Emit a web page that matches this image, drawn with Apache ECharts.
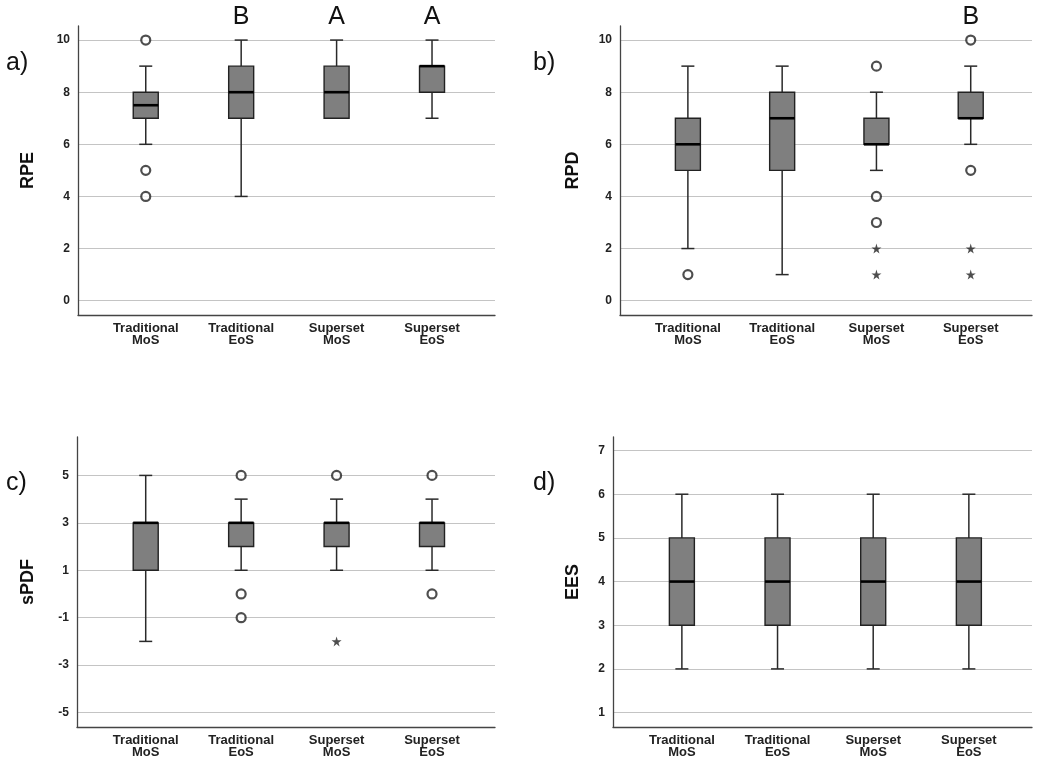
<!DOCTYPE html>
<html>
<head>
<meta charset="utf-8">
<script src="https://cdn.jsdelivr.net/npm/echarts@6/dist/echarts.min.js"></script>
<style>
  html, body { margin: 0; padding: 0; background: #fff; }
  #chart { width: 1049px; height: 762px; }
</style>
</head>
<body>
<div id="chart"></div>
<script>
// groups on the x axis
const categories = ['Traditional\nMoS', 'Traditional\nEoS', 'Superset\nMoS', 'Superset\nEoS'];

// boxes: [whisker low, Q1, median, Q3, whisker high]
const rpeBoxes = [[6, 7, 7.5, 8, 9], [4, 7, 8, 9, 10], [7, 7, 8, 9, 10], [7, 8, 9, 9, 10]];
const rpeCircles = [[0, 10], [0, 5], [0, 4]];
const rpeStars = [];
const rpeLetters = ['', 'B', 'A', 'A'];
const rpeTicks = [0, 2, 4, 6, 8, 10];

const rpdBoxes = [[2, 5, 6, 7, 9], [1, 5, 7, 8, 9], [5, 6, 6, 7, 8], [6, 7, 7, 8, 9]];
const rpdCircles = [[0, 1], [2, 9], [2, 4], [2, 3], [3, 10], [3, 5]];
const rpdStars = [[2, 2], [2, 1], [3, 2], [3, 1]];
const rpdLetters = ['', '', '', 'B'];
const rpdTicks = [0, 2, 4, 6, 8, 10];

const spdfBoxes = [[-2, 1, 3, 3, 5], [1, 2, 3, 3, 4], [1, 2, 3, 3, 4], [1, 2, 3, 3, 4]];
const spdfCircles = [[1, 5], [1, 0], [1, -1], [2, 5], [3, 5], [3, 0]];
const spdfStars = [[2, -2]];
const spdfLetters = ['', '', '', ''];
const spdfTicks = [-5, -3, -1, 1, 3, 5];

const eesBoxes = [[2, 3, 4, 5, 6], [2, 3, 4, 5, 6], [2, 3, 4, 5, 6], [2, 3, 4, 5, 6]];
const eesCircles = [];
const eesStars = [];
const eesLetters = ['', '', '', ''];
const eesTicks = [1, 2, 3, 4, 5, 6, 7];

const panels = [
  { tag: 'a)', name: 'RPE', nameGap: 41, grid: { left: 78, top: 26, width: 417, height: 289 },
    xMin: -0.71, xMax: 3.66, yMin: -0.55, yMax: 10.54,
    boxes: rpeBoxes, circles: rpeCircles, stars: rpeStars, letters: rpeLetters, ticks: rpeTicks },
  { tag: 'b)', name: 'RPD', nameGap: 38, grid: { left: 620, top: 26, width: 412, height: 289 },
    xMin: -0.72, xMax: 3.65, yMin: -0.55, yMax: 10.54,
    boxes: rpdBoxes, circles: rpdCircles, stars: rpdStars, letters: rpdLetters, ticks: rpdTicks },
  { tag: 'c)', name: 'sPDF', nameGap: 40, grid: { left: 77, top: 437, width: 418, height: 290 },
    xMin: -0.72, xMax: 3.66, yMin: -5.61, yMax: 6.62,
    boxes: spdfBoxes, circles: spdfCircles, stars: spdfStars, letters: spdfLetters, ticks: spdfTicks },
  { tag: 'd)', name: 'EES', nameGap: 31, grid: { left: 613, top: 437, width: 419, height: 290 },
    xMin: -0.72, xMax: 3.66, yMin: 0.67, yMax: 7.31,
    boxes: eesBoxes, circles: eesCircles, stars: eesStars, letters: eesLetters, ticks: eesTicks }
];

const FONT = '"Liberation Sans", Arial, sans-serif';
const STAR = 'path://M50,0 L61,35 L98,35 L68,57 L79,91 L50,70 L21,91 L32,57 L2,35 L39,35 Z';

function boxRenderer(p) {
  return function (params, api) {
    const x = api.value(0);
    const lo = api.coord([x, api.value(1)]);
    const q1 = api.coord([x, api.value(2)]);
    const md = api.coord([x, api.value(3)]);
    const q3 = api.coord([x, api.value(4)]);
    const hi = api.coord([x, api.value(5)]);
    const cx = lo[0];
    const bw = 25, cw = 13;
    const wStyle = { stroke: '#2a2a2a', lineWidth: 1.5 };
    const kids = [
      { type: 'line', shape: { x1: cx, y1: lo[1], x2: cx, y2: q1[1] }, style: wStyle },
      { type: 'line', shape: { x1: cx, y1: q3[1], x2: cx, y2: hi[1] }, style: wStyle },
      { type: 'line', shape: { x1: cx - cw / 2, y1: lo[1], x2: cx + cw / 2, y2: lo[1] }, style: wStyle },
      { type: 'line', shape: { x1: cx - cw / 2, y1: hi[1], x2: cx + cw / 2, y2: hi[1] }, style: wStyle },
      { type: 'rect', shape: { x: cx - bw / 2, y: q3[1], width: bw, height: q1[1] - q3[1] },
        style: { fill: '#7f7f7f', stroke: '#222', lineWidth: 1.4 } },
      { type: 'line', shape: { x1: cx - bw / 2, y1: md[1], x2: cx + bw / 2, y2: md[1] },
        style: { stroke: '#000', lineWidth: 2.6 } }
    ];
    const letter = p.letters[params.dataIndex];
    if (letter) {
      const top = api.coord([x, p.yMax]);
      kids.push({ type: 'text', x: cx, y: top[1] - 9,
        style: { text: letter, fill: '#111', font: '25px ' + FONT, align: 'center', verticalAlign: 'middle' } });
    }
    return { type: 'group', children: kids };
  };
}

const grid = [], xAxis = [], yAxis = [], series = [], graphic = [];
panels.forEach(function (p, i) {
  grid.push(p.grid);
  xAxis.push({
    type: 'value', gridIndex: i, min: p.xMin, max: p.xMax,
    axisLine: { show: true, onZero: false, lineStyle: { color: '#444', width: 1.3 } },
    axisTick: { show: false, customValues: [0, 1, 2, 3] },
    splitLine: { show: false },
    axisLabel: {
      customValues: [0, 1, 2, 3], margin: 7,
      formatter: function (v) { return categories[Math.round(v)]; },
      color: '#222', fontWeight: 'bold', fontSize: 13, fontFamily: FONT, lineHeight: 12
    }
  });
  yAxis.push({
    type: 'value', gridIndex: i, min: p.yMin, max: p.yMax,
    name: p.name, nameLocation: 'middle', nameGap: p.nameGap, nameRotate: 90,
    nameTextStyle: { color: '#111', fontWeight: 'bold', fontSize: 18, fontFamily: FONT },
    axisLine: { show: true, onZero: false, lineStyle: { color: '#444', width: 1.3 } },
    axisTick: { show: false, customValues: p.ticks },
    axisLabel: { customValues: p.ticks, margin: 8, color: '#222', fontWeight: 'bold', fontSize: 12, fontFamily: FONT },
    splitLine: { show: true, lineStyle: { color: '#c4c4c4', width: 1.2 } }
  });
  series.push({
    type: 'custom', xAxisIndex: i, yAxisIndex: i, clip: false,
    data: p.boxes.map(function (b, k) { return [k].concat(b); }),
    renderItem: boxRenderer(p), z: 3
  });
  series.push({
    type: 'scatter', xAxisIndex: i, yAxisIndex: i, data: p.circles,
    symbol: 'circle', symbolSize: 9, z: 4,
    itemStyle: { color: '#fff', borderColor: '#222', borderWidth: 2.2 }
  });
  series.push({
    type: 'scatter', xAxisIndex: i, yAxisIndex: i, data: p.stars,
    symbol: STAR, symbolSize: 10, z: 4,
    itemStyle: { color: '#222' }
  });
  graphic.push({
    type: 'text', left: i % 2 === 0 ? 6 : 533, top: i < 2 ? 51 : 471,
    style: { text: p.tag, fill: '#111', font: '25px ' + FONT }
  });
});

const chart = echarts.init(document.getElementById('chart'));
chart.setOption({
  animation: false,
  grid: grid, xAxis: xAxis, yAxis: yAxis, series: series, graphic: graphic
});
</script>
</body>
</html>
